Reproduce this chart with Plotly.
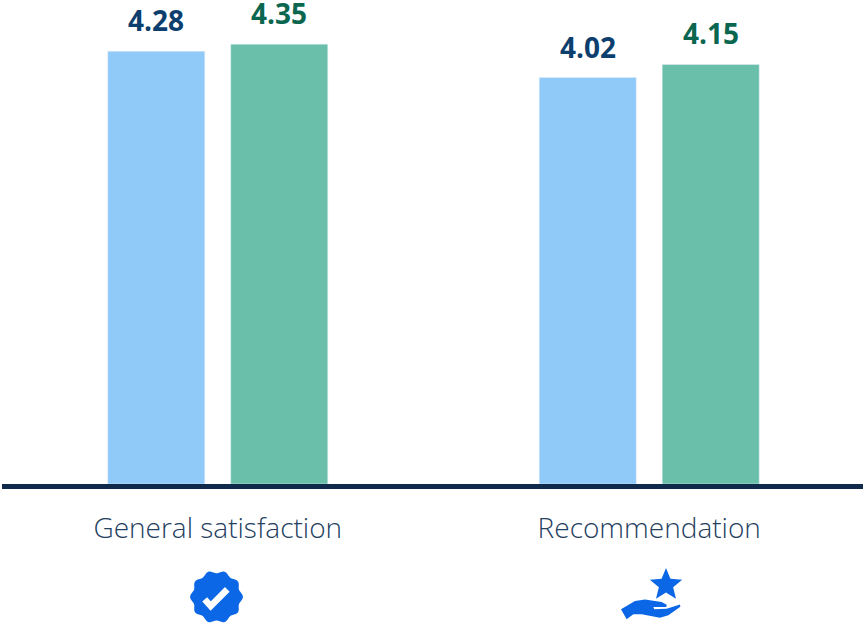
import math
import plotly.graph_objects as go

categories = ["General satisfaction", "Recommendation"]
series_a = [4.28, 4.02]
series_b = [4.35, 4.15]

W, H = 863, 629
L, B_Y = 2, 484.5
BLUE, GREEN = "#90caf9", "#6abfab"
ICON = "#0b67e6"

fig = go.Figure()
fig.add_bar(x=categories, y=series_a, marker_color=BLUE, showlegend=False)
fig.add_bar(x=categories, y=series_b, marker_color=GREEN, showlegend=False)

ann = []
for cat, a, b in zip(categories, series_a, series_b):
    ann.append(dict(x=cat, y=a, xref="x", yref="y", text=f"<b>{a:.2f}</b>", showarrow=False,
                    xshift=-61.5, yshift=10, yanchor="bottom",
                    font=dict(color="#0d3f6e", size=28, family="Open Sans")))
    ann.append(dict(x=cat, y=b, xref="x", yref="y", text=f"<b>{b:.2f}</b>", showarrow=False,
                    xshift=61.5, yshift=10, yanchor="bottom",
                    font=dict(color="#0b6650", size=28, family="Open Sans")))

def px(x): return (x - L) / (W - L)
def py(y): return (B_Y - y) / B_Y

def pts_to_path(pts):
    return "M" + " L".join(f"{px(x):.5f},{py(y):.5f}" for x, y in pts) + " Z"

# badge
cx, cy = 216.5, 597.5
badge = [(cx + (25 + 1.4 * math.cos(10 * t * 2 * math.pi / 200)) * math.cos(t * 2 * math.pi / 200),
          cy + (25 + 1.4 * math.cos(10 * t * 2 * math.pi / 200)) * math.sin(t * 2 * math.pi / 200))
         for t in range(200)]
check = [(204.7, 600), (210.7, 606.7), (227.3, 590)]
check_path = "M" + " L".join(f"{px(x):.5f},{py(y):.5f}" for x, y in check)
# star
sx, sy = 666, 585.5
star = []
for i in range(10):
    r = 17 if i % 2 == 0 else 7.5
    t = -math.pi / 2 + i * math.pi / 5
    star.append((sx + r * math.cos(t), sy + r * math.sin(t)))
# hand
hand_z = [(48,150),(90,125),(120,120),(170,128),(185,136),(184,143),(145,143),(148,150),
          (185,148),(225,135),(226,142),(190,168),(165,175),(110,165),(85,165),(65,180)]
hand = [(605 + x / 3, 560 + y / 3) for x, y in hand_z]

shapes = [
    dict(type="path", xref="paper", yref="paper", path=pts_to_path(badge), fillcolor=ICON, line_width=0),
    dict(type="path", xref="paper", yref="paper", path=check_path, line=dict(color="white", width=6.5)),
    dict(type="path", xref="paper", yref="paper", path=pts_to_path(star), fillcolor=ICON, line_width=0),
    dict(type="path", xref="paper", yref="paper", path=pts_to_path(hand), fillcolor=ICON, line_width=0),
]

fig.update_layout(
    width=W, height=H, autosize=False,
    margin=dict(l=L, r=0, t=0, b=H - B_Y, pad=0),
    paper_bgcolor="white", plot_bgcolor="white",
    barmode="group", bargap=0.43, bargroupgap=0.211,
    annotations=ann, shapes=shapes,
    font=dict(family="Open Sans"),
    xaxis=dict(type="category", range=[-0.5, 1.4954], showline=True, linecolor="#0f2a4a", linewidth=5,
               ticks="outside", ticklen=15, tickcolor="rgba(0,0,0,0)",
               tickfont=dict(size=28, color="#24405f", family="Open Sans", weight=300), showgrid=False),
    yaxis=dict(range=[0, 4.787], visible=False, showgrid=False, zeroline=False),
)
fig.write_html("out.html", config=dict(displayModeBar=False), post_script="document.body.style.margin='0';")
